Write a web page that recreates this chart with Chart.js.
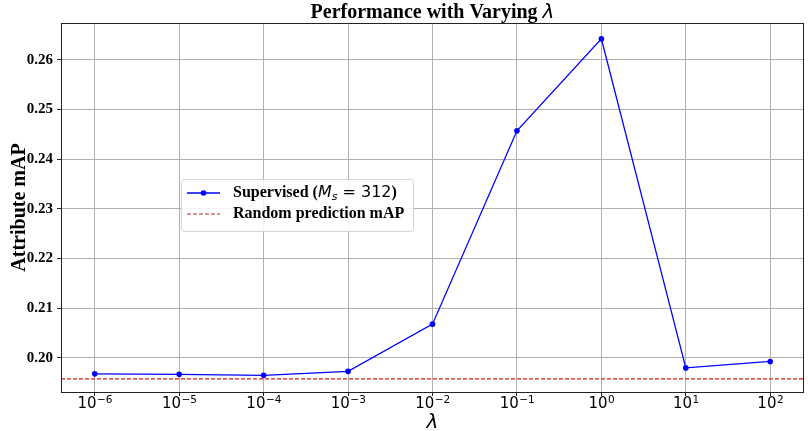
<!DOCTYPE html>
<html>
<head>
<meta charset="utf-8">
<script src="https://cdn.jsdelivr.net/npm/chart.js@4/dist/chart.umd.min.js"></script>
<style>
html,body{margin:0;padding:0;background:#fff;}
#wrap{width:808px;height:431px;position:relative;}
</style>
</head>
<body>
<div id="wrap"><canvas id="c" width="808" height="431"></canvas></div>
<script>
const lambdaExponents = [-6, -5, -4, -3, -2, -1, 0, 1, 2];
const supervisedMAP = [0.1968, 0.1967, 0.1965, 0.1973, 0.2068, 0.2457, 0.2642, 0.1980, 0.1993];
const randomMAP = 0.1958;
const yTickValues = [0.20, 0.21, 0.22, 0.23, 0.24, 0.25, 0.26];
const xTickBase = '10';
const xTickExponents = ['−6', '−5', '−4', '−3', '−2', '−1', '0', '1', '2'];
const titleText = 'Performance with Varying ';
const yTitle = 'Attribute mAP';
const legendLabels = ['Supervised (', 'Random prediction mAP'];

const SERIF = '"Liberation Serif", "Times New Roman", serif';
const SANS = '"DejaVu Sans", sans-serif';

const extras = {
  id: 'extras',
  beforeDatasetsDraw(chart) {
    const ctx = chart.ctx, a = chart.chartArea, y = chart.scales.y;
    const py = y.getPixelForValue(randomMAP);
    ctx.save();
    ctx.strokeStyle = '#d8201c';
    ctx.lineWidth = 1.1;
    ctx.setLineDash([4, 2]);
    ctx.beginPath();
    ctx.moveTo(a.left, py);
    ctx.lineTo(a.right, py);
    ctx.stroke();
    ctx.restore();
  },
  afterDraw(chart) {
    const ctx = chart.ctx, a = chart.chartArea, xs = chart.scales.x;
    ctx.save();
    // frame
    ctx.strokeStyle = '#222';
    ctx.lineWidth = 1;
    ctx.strokeRect(a.left + 0.5, a.top + 0.5, a.right - a.left - 1, a.bottom - a.top);
    // x tick labels (10 with superscript exponent)
    ctx.fillStyle = '#000';
    ctx.textBaseline = 'alphabetic';
    ctx.textAlign = 'left';
    xs.ticks.forEach((t, i) => {
      const px = xs.getPixelForValue(t.value);
      const sup = xTickExponents[lambdaExponents.indexOf(t.value)];
      ctx.font = '15px ' + SANS;
      const wb = ctx.measureText(xTickBase).width;
      ctx.font = '10.5px ' + SANS;
      const ws = ctx.measureText(sup).width;
      const sx = px - (wb + ws) / 2;
      ctx.font = '15px ' + SANS;
      ctx.fillText(xTickBase, sx, 408);
      ctx.font = '10.5px ' + SANS;
      ctx.fillText(sup, sx + wb + 0.5, 403);
    });
    // title
    const cx = (a.left + a.right) / 2;
    ctx.font = 'bold 20px ' + SERIF;
    const w1 = ctx.measureText(titleText).width;
    ctx.font = 'italic 20px ' + SANS;
    const w2 = ctx.measureText('λ').width;
    let x0 = cx - (w1 + w2) / 2;
    ctx.font = 'bold 20px ' + SERIF;
    ctx.fillText(titleText, x0, 18);
    ctx.font = 'italic 20px ' + SANS;
    ctx.fillText('λ', x0 + w1, 18);
    // x title
    ctx.textAlign = 'center';
    ctx.font = 'italic 20px ' + SANS;
    ctx.fillText('λ', cx, 428);
    // y title
    ctx.save();
    ctx.translate(25, (a.top + a.bottom) / 2);
    ctx.rotate(-Math.PI / 2);
    ctx.font = 'bold 20px ' + SERIF;
    ctx.textAlign = 'center';
    ctx.fillText(yTitle, 0, 0);
    ctx.restore();
    // legend
    const lx = 181, ly = 179, lw = 232, lh = 52;
    ctx.fillStyle = 'rgba(255,255,255,0.85)';
    ctx.strokeStyle = '#d4d4d4';
    ctx.lineWidth = 1;
    ctx.beginPath();
    ctx.roundRect(lx + 0.5, ly + 0.5, lw, lh, 3);
    ctx.fill();
    ctx.stroke();
    const r1 = 193, r2 = 214;
    ctx.strokeStyle = '#0000ff';
    ctx.lineWidth = 1.3;
    ctx.beginPath(); ctx.moveTo(187, r1); ctx.lineTo(220, r1); ctx.stroke();
    ctx.fillStyle = '#0000ff';
    ctx.beginPath(); ctx.arc(203.5, r1, 2.8, 0, Math.PI * 2); ctx.fill();
    ctx.strokeStyle = '#b02a2a';
    ctx.lineWidth = 1;
    ctx.setLineDash([4, 2]);
    ctx.beginPath(); ctx.moveTo(187, r2); ctx.lineTo(220, r2); ctx.stroke();
    ctx.setLineDash([]);
    ctx.fillStyle = '#000';
    ctx.textAlign = 'left';
    ctx.textBaseline = 'middle';
    let tx = 233;
    ctx.font = 'bold 16px ' + SERIF;
    ctx.fillText(legendLabels[0], tx, r1);
    tx += ctx.measureText(legendLabels[0]).width;
    ctx.font = 'italic 16px ' + SANS;
    ctx.fillText('M', tx, r1);
    tx += ctx.measureText('M').width;
    ctx.font = 'italic 11px ' + SANS;
    ctx.fillText('s', tx, r1 + 4);
    tx += ctx.measureText('s').width;
    ctx.font = '16px ' + SANS;
    ctx.fillText(' = 312', tx, r1);
    tx += ctx.measureText(' = 312').width;
    ctx.font = 'bold 16px ' + SERIF;
    ctx.fillText(')', tx, r1);
    ctx.fillText(legendLabels[1], 233, r2);
    ctx.restore();
  }
};

new Chart(document.getElementById('c'), {
  type: 'line',
  data: {
    datasets: [{
      label: 'Supervised',
      data: lambdaExponents.map((e, i) => ({ x: e, y: supervisedMAP[i] })),
      borderColor: '#0000ff',
      backgroundColor: '#0000ff',
      borderWidth: 1.3,
      pointRadius: 2.8,
      pointHoverRadius: 2.8,
      pointBorderWidth: 0,
      tension: 0,
      fill: false
    }]
  },
  plugins: [extras],
  options: {
    responsive: false,
    animation: false,
    devicePixelRatio: 1,
    layout: { padding: { left: 0, right: 4, top: 23, bottom: 0 } },
    plugins: { legend: { display: false }, title: { display: false }, tooltip: { enabled: false } },
    scales: {
      x: {
        type: 'linear',
        min: -6.4,
        max: 2.4,
        afterBuildTicks(s) { s.ticks = lambdaExponents.map(v => ({ value: v })); },
        afterFit(s) { s.height = 39; },
        grid: { color: '#b0b0b0', lineWidth: 1, tickColor: '#222', tickLength: 4, drawTicks: true },
        border: { display: false },
        ticks: { display: false }
      },
      y: {
        min: 0.19315,
        max: 0.2674,
        afterBuildTicks(s) { s.ticks = yTickValues.map(v => ({ value: v })); },
        afterFit(s) { s.width = 61; },
        grid: { color: '#b0b0b0', lineWidth: 1, tickColor: '#222', tickLength: 4, drawTicks: true },
        border: { display: false },
        ticks: {
          padding: 4,
          color: '#000',
          font: { family: SERIF, size: 15, weight: 'bold' },
          callback: (v) => v.toFixed(2)
        }
      }
    }
  }
});
</script>
</body>
</html>
